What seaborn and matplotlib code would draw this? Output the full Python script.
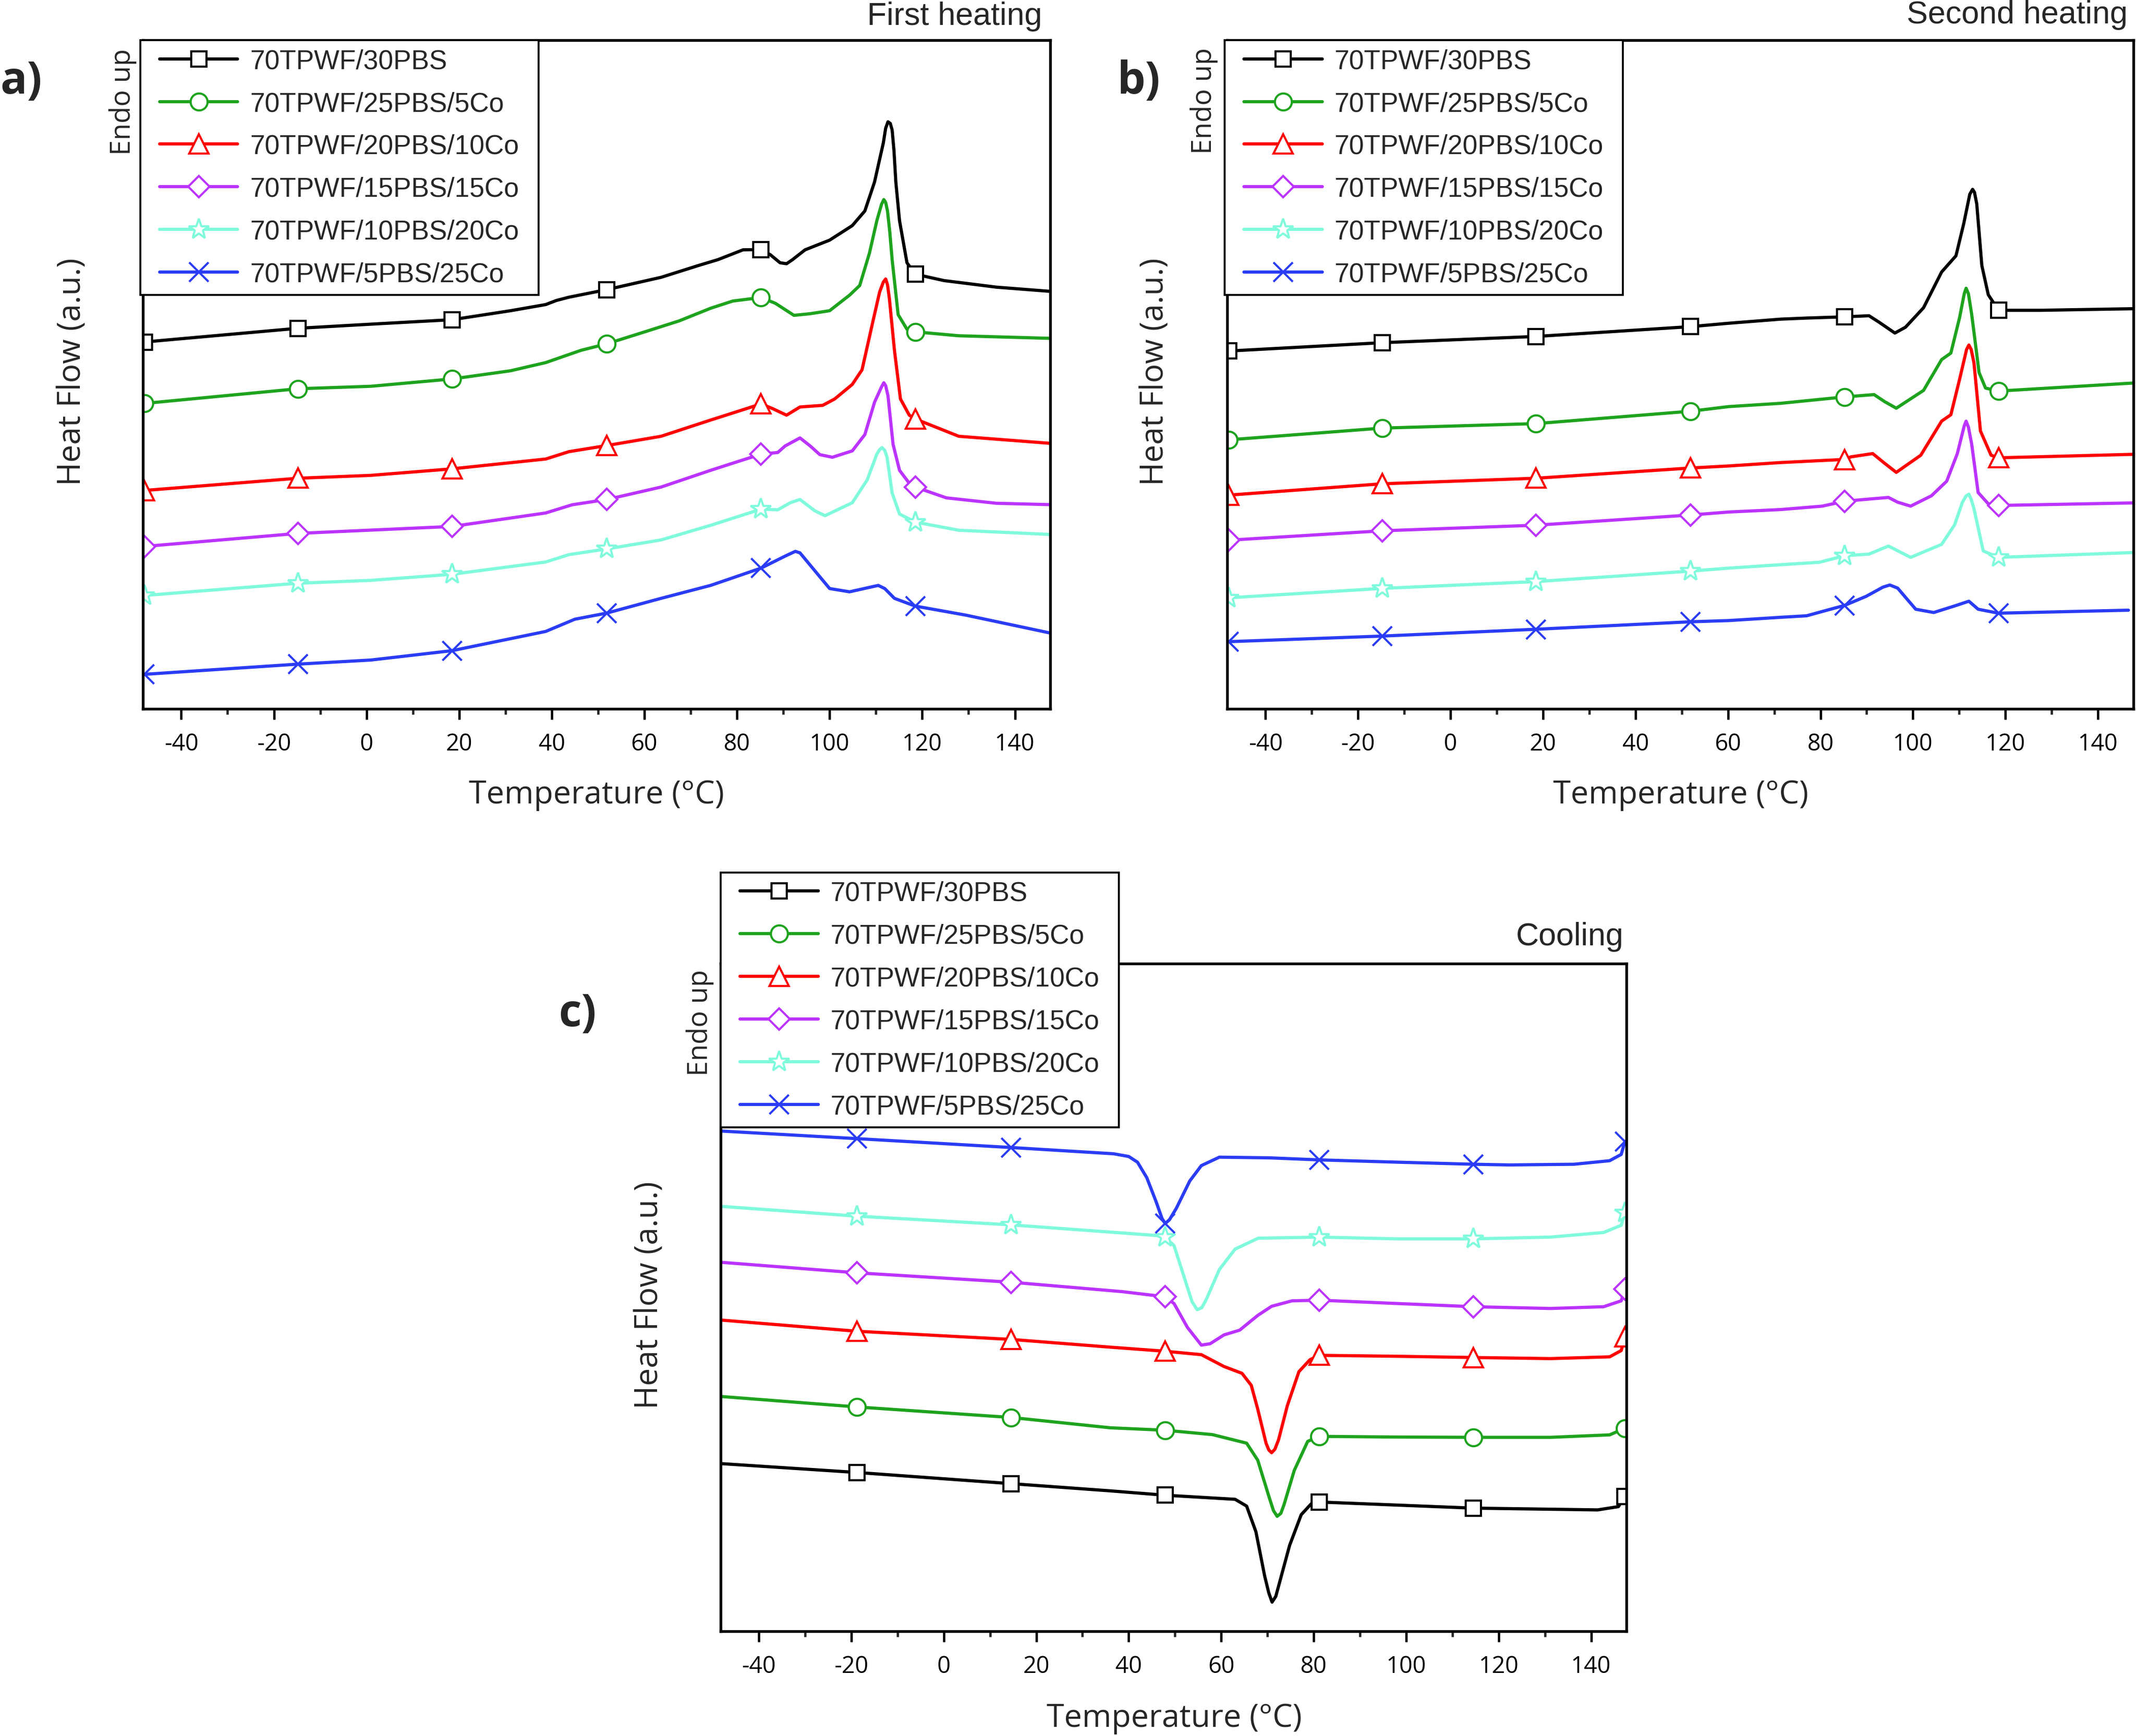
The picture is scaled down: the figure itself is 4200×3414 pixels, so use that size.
import matplotlib
matplotlib.use('Agg')
import matplotlib.pyplot as plt
from matplotlib.path import Path
import seaborn as sns
import pandas as pd

sns.set_theme(style='white')
plt.rcParams['font.family'] = ['Open Sans', 'DejaVu Sans']
plt.rcParams['axes.unicode_minus'] = False

# sample names and styles
labels = ['70TPWF/30PBS', '70TPWF/25PBS/5Co', '70TPWF/20PBS/10Co',
          '70TPWF/15PBS/15Co', '70TPWF/10PBS/20Co', '70TPWF/5PBS/25Co']
colors = ['#000000', '#1ea31e', '#ff0000', '#bb33ff', '#7ffadc', '#2a3cf5']
markers = ['s', 'o', '^', 'D', '*', 'x']
msizes = [7, 8, 9, 7, 10, 9]

# temperatures where Origin put a symbol
heat_marks = [-48.0, -14.8, 18.5, 51.9, 85.2, 118.5]
cool_marks = [-18.8, 14.5, 47.9, 81.2, 114.5, 147.3]

# (temperature, heat flow a.u.)
# ---- first heating
first_30pbs = [(-48.0, 269.5), (-14.8, 279.6), (0.9, 282.6), (18.5, 285.9), (31.1, 292.5), (38.7, 297.0),
               (41.0, 300.0), (43.7, 302.4), (51.9, 308.0), (63.6, 317.0), (71.5, 325.5), (75.9, 330.0),
               (81.3, 337.2), (85.2, 337.4), (87.2, 333.6), (89.3, 327.7), (90.7, 327.0), (92.0, 330.0),
               (94.7, 337.2), (100.0, 344.3), (104.9, 355.0), (107.6, 365.7), (109.7, 387.0), (111.6, 415.7),
               (112.1, 426.5), (112.6, 431.2), (113.1, 430.0), (113.5, 425.2), (113.9, 410.0), (114.3, 387.0),
               (115.1, 358.6), (116.7, 327.7), (118.5, 319.3), (124.7, 314.6), (136.0, 309.8), (147.7, 306.7)]
first_25pbs = [(-48.0, 224.4), (-14.8, 235.2), (0.9, 237.0), (18.5, 242.4), (31.1, 248.4), (38.7, 254.4),
               (46.3, 263.4), (51.9, 268.2), (61.4, 278.4), (67.5, 285.0), (74.3, 294.3), (79.1, 299.6),
               (85.2, 302.2), (88.3, 297.9), (92.3, 289.1), (95.8, 290.3), (100.0, 292.5), (104.3, 303.9),
               (106.5, 311.0), (108.6, 334.8), (110.2, 358.6), (111.2, 370.5), (111.7, 374.1), (112.1, 372.0),
               (112.5, 365.7), (113.0, 350.0), (113.5, 330.0), (114.8, 289.6), (116.7, 278.9), (118.5, 277.0),
               (127.9, 274.1), (147.7, 272.2)]
first_20pbs = [(-48.0, 160.5), (-14.8, 169.5), (0.9, 171.6), (18.5, 176.4), (38.7, 183.6), (43.7, 189.0),
               (51.9, 193.5), (63.6, 200.3), (74.3, 212.2), (82.4, 221.0), (85.2, 224.1), (87.7, 220.6),
               (90.7, 215.8), (93.6, 221.8), (98.5, 223.0), (101.1, 227.7), (104.9, 238.4), (107.0, 249.1),
               (109.2, 282.4), (110.8, 306.2), (111.6, 313.5), (112.1, 315.8), (112.5, 311.5), (112.9, 301.5),
               (114.0, 263.4), (115.3, 227.7), (117.2, 215.8), (118.5, 213.0), (127.9, 200.3), (147.7, 195.1)]
first_15pbs = [(-48.0, 119.4), (-14.8, 129.0), (0.9, 131.4), (18.5, 134.1), (38.7, 144.0), (44.4, 150.0),
               (51.9, 153.9), (63.6, 163.0), (74.3, 175.3), (85.2, 187.2), (88.8, 188.4), (90.4, 193.2),
               (93.6, 199.1), (95.8, 193.2), (97.9, 186.8), (100.6, 184.9), (104.9, 189.6), (107.6, 201.5),
               (109.7, 225.3), (111.2, 236.5), (111.7, 239.6), (112.1, 237.5), (112.6, 230.1), (113.7, 194.4),
               (115.1, 175.3), (117.2, 165.8), (118.5, 163.0), (125.2, 155.1), (136.0, 151.1), (147.7, 150.1)]
first_10pbs = [(-48.0, 83.4), (-14.8, 92.4), (0.9, 94.5), (18.5, 99.0), (38.7, 108.0), (43.7, 113.4),
               (51.9, 117.6), (63.6, 124.2), (74.3, 134.9), (85.2, 146.8), (88.8, 146.3), (91.5, 151.5),
               (93.6, 153.9), (96.8, 145.6), (99.0, 142.0), (104.9, 151.5), (108.1, 168.2), (110.2, 187.2),
               (110.8, 190.5), (111.3, 192.0), (111.9, 190.0), (112.4, 184.9), (113.5, 158.7), (115.1, 143.2),
               (118.5, 137.3), (127.9, 131.3), (147.7, 128.2)]
first_5pbs = [(-48.0, 25.5), (-14.8, 33.0), (0.9, 36.0), (18.5, 42.9), (38.7, 57.0), (45.0, 66.0),
              (51.9, 70.5), (63.6, 81.3), (74.3, 90.8), (85.2, 103.5), (90.5, 112.5), (92.6, 115.8),
              (93.6, 114.7), (96.8, 101.6), (100.0, 88.5), (104.3, 86.1), (110.5, 90.8), (111.9, 88.5),
              (114.0, 81.3), (118.5, 75.6), (129.4, 69.0), (148.1, 55.5)]

# ---- second heating
second_30pbs = [(-48.0, 262.9), (-14.8, 269.0), (18.5, 273.6), (51.9, 280.8), (60.2, 283.3), (71.4, 286.3),
                (77.0, 287.1), (85.2, 288.0), (90.5, 288.8), (92.7, 284.0), (96.1, 276.1), (98.4, 280.4),
                (102.3, 294.7), (106.2, 320.9), (109.3, 332.8), (111.0, 356.6), (112.3, 378.0), (112.9, 381.6),
                (113.3, 379.5), (113.8, 370.9), (114.9, 325.7), (116.3, 304.2), (118.5, 292.8), (127.5, 292.8),
                (148.2, 294.0)]
second_25pbs = [(-48.0, 197.7), (-14.8, 206.3), (18.5, 209.6), (51.9, 218.7), (60.2, 222.1), (71.4, 224.5),
                (85.2, 229.2), (91.6, 230.9), (93.9, 225.7), (96.4, 220.9), (102.3, 234.0), (106.2, 256.6),
                (108.2, 261.4), (110.1, 287.6), (111.1, 305.0), (111.5, 309.0), (112.0, 305.0), (112.7, 290.0),
                (114.3, 247.1), (115.7, 235.7), (118.5, 233.5), (148.2, 239.5)]
second_20pbs = [(-48.0, 157.1), (-14.8, 165.4), (18.5, 169.5), (51.9, 177.0), (60.2, 178.5), (71.4, 181.0),
                (85.2, 183.3), (86.6, 185.2), (91.3, 187.6), (93.9, 180.4), (96.4, 173.8), (101.7, 186.4),
                (106.2, 211.4), (108.2, 216.1), (110.1, 242.3), (111.6, 264.0), (112.1, 267.3), (112.6, 264.0),
                (113.2, 254.2), (114.6, 204.2), (116.9, 186.4), (118.5, 184.5), (148.2, 187.1)]
second_15pbs = [(-48.0, 124.0), (-14.8, 130.9), (18.5, 135.0), (51.9, 142.5), (60.2, 144.7), (71.4, 146.5),
                (80.4, 149.0), (85.2, 152.6), (90.5, 154.2), (94.7, 155.4), (96.7, 151.9), (99.5, 149.0),
                (104.0, 156.6), (107.3, 167.3), (109.6, 187.6), (111.1, 208.0), (111.5, 211.4), (112.0, 207.0),
                (112.7, 194.7), (114.1, 159.0), (116.3, 150.7), (118.5, 149.5), (148.2, 151.4)]
second_10pbs = [(-48.0, 81.7), (-14.8, 88.6), (18.5, 93.6), (51.9, 101.3), (60.2, 103.5), (71.4, 106.0),
                (79.8, 107.8), (85.2, 112.6), (90.5, 113.8), (94.7, 119.7), (99.5, 111.4), (106.2, 120.9),
                (109.0, 135.2), (110.7, 151.8), (111.5, 156.5), (112.1, 157.8), (112.6, 154.0), (113.2, 147.1),
                (115.2, 116.1), (118.5, 111.4), (148.2, 115.0)]
second_5pbs = [(-48.0, 49.5), (-14.8, 53.6), (18.5, 58.6), (51.9, 64.1), (60.2, 65.0), (71.4, 67.4),
               (77.0, 68.5), (85.2, 76.1), (89.9, 82.8), (93.5, 89.5), (95.0, 91.1), (96.7, 88.8),
               (100.6, 73.3), (104.5, 70.9), (109.0, 75.7), (112.1, 79.2), (114.1, 73.3), (118.5, 70.4),
               (146.6, 72.6)]

# ---- cooling
cool_30pbs = [(-48.2, 123.0), (-18.8, 116.5), (14.5, 108.3), (36.0, 103.0), (47.9, 99.8), (63.0, 96.8),
              (65.5, 91.8), (67.5, 73.0), (69.4, 40.5), (70.3, 28.0), (71.0, 21.3), (71.8, 25.5),
              (72.6, 35.5), (74.8, 63.0), (77.3, 85.5), (79.7, 94.3), (81.2, 94.8), (98.3, 92.5),
              (114.5, 90.3), (131.2, 89.5), (141.4, 89.0), (145.9, 91.4), (147.3, 99.0)]
cool_25pbs = [(-48.2, 172.3), (-18.8, 164.6), (14.5, 156.9), (36.0, 149.3), (47.9, 147.5), (58.1, 144.3),
              (65.5, 138.0), (67.9, 125.5), (70.4, 98.0), (71.3, 88.5), (72.1, 84.3), (72.9, 86.5),
              (73.6, 93.0), (75.8, 118.0), (78.7, 139.3), (81.2, 143.0), (98.3, 142.5), (114.5, 142.3),
              (131.2, 142.3), (144.0, 144.1), (147.3, 149.0)]
cool_20pbs = [(-48.2, 228.4), (-18.8, 220.2), (14.5, 214.2), (36.0, 208.5), (47.9, 205.5), (55.7, 203.0),
              (60.6, 194.3), (64.5, 189.3), (66.5, 180.5), (67.9, 163.0), (69.7, 138.0), (70.3, 133.0),
              (70.9, 131.0), (71.6, 133.5), (72.4, 140.5), (74.3, 165.5), (76.8, 190.5), (79.2, 199.3),
              (81.2, 202.5), (98.3, 201.8), (114.5, 200.9), (131.2, 200.1), (144.0, 201.4), (146.5, 206.0),
              (147.3, 216.0)]
cool_15pbs = [(-48.2, 270.8), (-18.8, 263.1), (14.5, 256.2), (38.5, 249.3), (47.9, 245.5), (49.8, 240.5),
              (52.7, 223.0), (55.7, 210.0), (57.6, 211.0), (60.6, 217.5), (64.0, 221.0), (67.9, 231.8),
              (70.9, 238.5), (75.3, 242.5), (81.2, 243.0), (98.3, 240.5), (114.5, 238.2), (131.2, 236.9),
              (142.7, 238.2), (146.5, 242.5), (147.3, 251.0)]
cool_10pbs = [(-48.2, 311.9), (-18.8, 304.7), (14.5, 298.3), (36.0, 293.0), (45.9, 290.5), (47.9, 289.3),
              (49.8, 283.0), (51.7, 263.0), (53.7, 241.8), (54.8, 236.0), (55.8, 237.5), (56.7, 243.0),
              (59.6, 265.5), (63.0, 280.5), (68.0, 288.5), (81.2, 289.3), (98.3, 288.0), (114.5, 288.0),
              (131.2, 289.3), (142.7, 292.7), (146.5, 298.0), (147.3, 307.0)]
cool_5pbs = [(-48.2, 367.2), (-18.8, 361.6), (14.5, 355.1), (36.7, 350.5), (40.0, 348.5), (41.9, 344.3),
             (43.9, 333.0), (45.9, 315.5), (47.2, 303.0), (47.9, 299.3), (48.8, 302.0), (50.3, 310.5),
             (53.2, 330.5), (55.7, 341.8), (59.6, 348.0), (70.4, 347.5), (81.2, 346.0), (98.3, 344.3),
             (114.5, 342.8), (122.3, 342.3), (136.3, 342.8), (144.0, 345.4), (146.5, 350.0), (147.3, 359.5)]

W, H = 1568, 1275  # layout worked out on a 1568x1275 copy of the figure
FIG_W_PX = 4200
LEG_FS = 12.7
PADX = 0.42  # extra sideways room inside the legend frame (in font sizes)


def fx(px):
    return px / W


def fy(py):
    return 1 - py / H


def legend_box(x0, y0, width, height, mutation_size):
    # square frame, wider on the sides than on top/bottom
    px = PADX * mutation_size
    return Path([(x0 - px, y0), (x0 + width + px, y0), (x0 + width + px, y0 + height),
                 (x0 - px, y0 + height), (x0 - px, y0)], closed=True)


def draw_panel(rect, series, marks, ylim):
    ax = fig.add_axes(rect)
    for name, pts, c, m, ms in zip(labels, series, colors, markers, msizes):
        df = pd.DataFrame(pts, columns=['T', 'hf'])
        idx = [i for i, t in enumerate(df['T']) if t in marks]
        sns.lineplot(data=df, x='T', y='hf', ax=ax, color=c, lw=1.5, label=name,
                     marker=m, markevery=idx, markersize=ms, markerfacecolor='white',
                     markeredgecolor=c, markeredgewidth=1.0)
    ax.set_xlim(-48.25, 147.65)
    ax.set_ylim(*ylim)
    ax.set_xticks(range(-40, 141, 20))
    ax.set_xticks(range(-40, 141, 10), minor=True)
    ax.set_yticks([])
    ax.set_xlabel('')
    ax.set_ylabel('')
    ax.tick_params(axis='x', which='major', direction='out', length=5, width=1.1,
                   bottom=True, labelsize=11, pad=6, colors='black')
    ax.tick_params(axis='x', which='minor', direction='out', length=2.6, width=1.1, bottom=True)
    for s in ax.spines.values():
        s.set_color('black')
        s.set_linewidth(1.3)
    return ax


fig = plt.figure(figsize=(14, 11.3833), dpi=300)

ax_a = draw_panel([fx(105), fy(521), fx(771) - fx(105), fy(30) - fy(521)],
                  [first_30pbs, first_25pbs, first_20pbs, first_15pbs, first_10pbs, first_5pbs],
                  heat_marks, (0, 491))
ax_b = draw_panel([fx(901), fy(521), fx(1566) - fx(901), fy(30) - fy(521)],
                  [second_30pbs, second_25pbs, second_20pbs, second_15pbs, second_10pbs, second_5pbs],
                  heat_marks, (0, 491))
ax_c = draw_panel([fx(529), fy(1198), fx(1194) - fx(529), fy(708) - fy(1198)],
                  [cool_30pbs, cool_25pbs, cool_20pbs, cool_15pbs, cool_10pbs, cool_5pbs],
                  cool_marks, (0, 490))

dx = PADX * LEG_FS / 72 * 300 / FIG_W_PX
leg_font = {'family': ['Liberation Sans', 'DejaVu Sans'], 'size': LEG_FS}
for ax, (lx, ly) in [(ax_a, (103, 30)), (ax_b, (899, 30)), (ax_c, (529, 641))]:
    leg = ax.legend(loc='upper left', bbox_to_anchor=(fx(lx) + dx, fy(ly)), bbox_transform=fig.transFigure,
                    borderaxespad=0, prop=leg_font, frameon=True, fancybox=False, framealpha=1,
                    edgecolor='black', handlelength=2.9, handletextpad=0.45, labelspacing=0.64,
                    borderpad=0.3)
    leg.get_frame().set_linewidth(0.9)
    leg.get_frame().set_boxstyle(legend_box)

title_font = ['Liberation Sans', 'DejaVu Sans']
fig.text(fx(765), fy(12), 'First heating', ha='right', va='center', fontsize=15, family=title_font)
fig.text(fx(1562), fy(11), 'Second heating', ha='right', va='center', fontsize=15, family=title_font)
fig.text(fx(1192), fy(688), 'Cooling', ha='right', va='center', fontsize=15, family=title_font)

for x, y, t in [(0, 60, 'a)'), (820, 60, 'b)'), (410, 745, 'c)')]:
    fig.text(fx(x), fy(y), t, ha='left', va='center', fontsize=21, fontweight='bold')

for x, y in [(90, 75), (884, 74), (514, 751)]:
    fig.text(fx(x), fy(y), 'Endo up', rotation=90, ha='center', va='center', fontsize=13)
for x, y in [(53, 273), (848, 273), (477, 951)]:
    fig.text(fx(x), fy(y), 'Heat Flow (a.u.)', rotation=90, ha='center', va='center', fontsize=15)
for x, y in [(438, 584), (1234, 584), (862, 1262)]:
    fig.text(fx(x), fy(y), 'Temperature (°C)', ha='center', va='center', fontsize=15)

fig.savefig('out.png', dpi=300, facecolor='white')
